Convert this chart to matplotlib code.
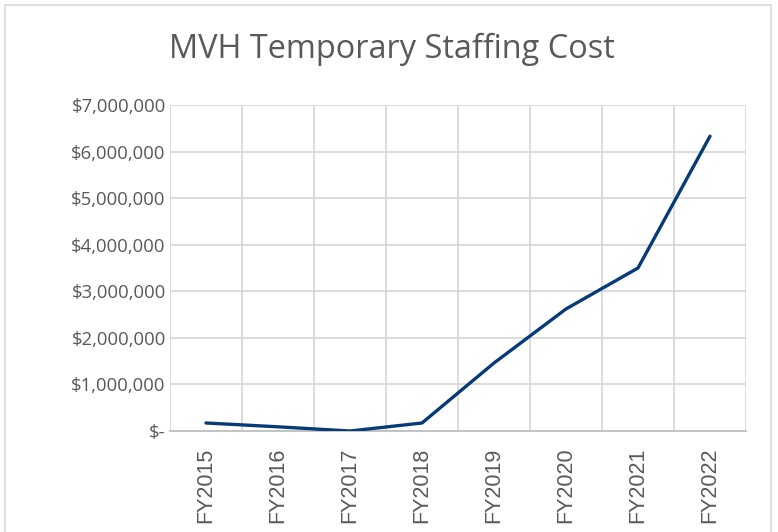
import numpy as np
import matplotlib.pyplot as plt
from matplotlib.ticker import FuncFormatter, MultipleLocator
from matplotlib.patches import Rectangle

# data
years = ["FY2015", "FY2016", "FY2017", "FY2018", "FY2019", "FY2020", "FY2021", "FY2022"]
cost = [172000, 90000, 0, 172000, 1460000, 2620000, 3500000, 6330000]

text_gray = "#595959"
grid_gray = "#D9D9D9"
line_blue = "#073B78"

fig = plt.figure(figsize=(7.78, 5.32), dpi=100)
ax = fig.add_axes([170 / 778, 1 - 431 / 532, 576 / 778, 326 / 532])

x = np.arange(len(years))
ax.plot(x, cost, color=line_blue, lw=2.4, solid_joinstyle="round", solid_capstyle="round", zorder=3)

ax.set_xlim(-0.5, len(years) - 0.5)
ax.set_ylim(0, 7000000)
ax.yaxis.set_major_locator(MultipleLocator(1000000))
ax.set_xticks(x)
ax.set_xticks(np.arange(-0.5, len(years)), minor=True)


def money(v, pos):
    if v == 0:
        return "$-"
    return f"${v:,.0f}"


ax.yaxis.set_major_formatter(FuncFormatter(money))
ax.set_xticklabels(years, rotation=90, family="Liberation Sans", fontsize=15.5, color=text_gray)
for lab in ax.get_yticklabels():
    lab.set_family("Open Sans")
    lab.set_fontsize(13.3)
    lab.set_color(text_gray)

ax.grid(axis="y", which="major", color=grid_gray, lw=1.3)
ax.grid(axis="x", which="minor", color=grid_gray, lw=1.3)
ax.set_axisbelow(True)
ax.tick_params(axis="both", which="both", length=0)
ax.tick_params(axis="y", pad=3)
ax.tick_params(axis="x", pad=12)

for s in ["top", "right", "left"]:
    ax.spines[s].set_visible(False)
ax.spines["bottom"].set_color("#BFBFBF")
ax.spines["bottom"].set_linewidth(1.3)

fig.text(392 / 778, 1 - 49 / 532, "MVH Temporary Staffing Cost", ha="center", va="center",
         family="Open Sans", fontsize=23.4, color=text_gray)

# chart area border
fig.patches.append(Rectangle((5 / 778, -0.01), 766 / 778, 1 - 5 / 532 + 0.01, transform=fig.transFigure,
                             fill=False, edgecolor="#D9D9D9", lw=1.2))

fig.savefig("out.png", dpi=100)
